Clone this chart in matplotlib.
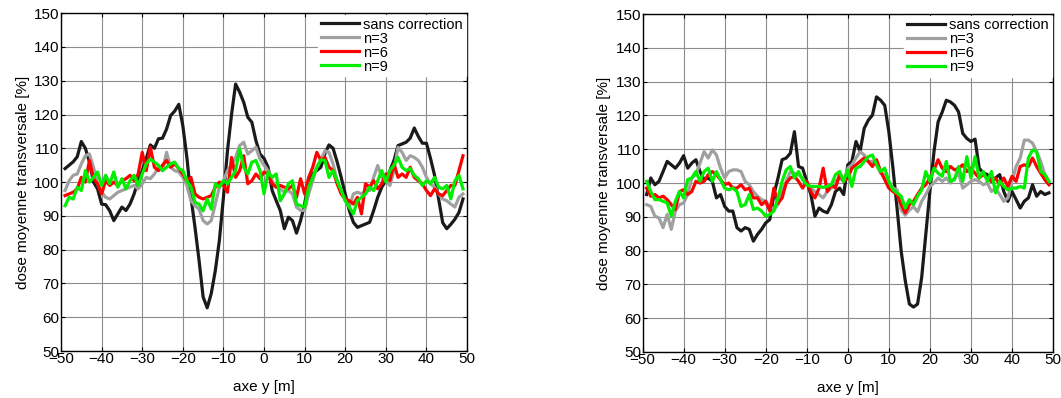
# Profils de dose moyenne transversale - deux configurations
import numpy as np
import matplotlib.pyplot as plt

plt.rcParams['font.family'] = ['Liberation Sans', 'DejaVu Sans']
plt.rcParams['font.size'] = 11

# positions le long de l'axe y [m]
y_pos = np.arange(-49, 50, 1)

# graphe de gauche
gauche_sans = [104, 105, 106, 107.5, 112, 110, 106, 100, 98, 93.5,
               93.3, 91.5, 88.6, 90.6, 92.6, 91.6, 93.5, 96.5, 100.4, 103.4,
               107, 111, 110, 112.8, 113, 115.7, 119.7, 121, 123, 116.7,
               107.3, 95.5, 86.6, 76.8, 66, 62.8, 67, 73.8, 82.7, 95.5,
               109.3, 120, 129, 126.6, 123.6, 119.2, 117.7, 112.3, 108.3, 107,
               104.4, 97.5, 94.5, 91.6, 86.2, 89.6, 88.6, 84.9, 88.6, 93.5,
               100.4, 102.4, 103.4, 104.4, 108.5, 111, 110, 106, 101.4, 96.5,
               91.6, 88.1, 86.6, 87.1, 87.6, 88.1, 91.6, 95.5, 98.5, 100.4,
               103.4, 106.4, 110.8, 111.3, 111.8, 113, 116, 113.5, 111.5, 111.5,
               107, 102, 95, 88, 86.2, 87.5, 89, 91, 95]
gauche_n3 = [97.5, 100.4, 102, 102.4, 105.4, 107.8, 108.3, 104.4, 99.5, 97,
             95.5, 95, 96, 97, 97.5, 98, 98.5, 99, 98, 99.5,
             101.4, 101, 102.4, 104.4, 103.4, 108.8, 104.4, 103.4, 103, 101.4,
             99, 94.5, 93, 92, 88.6, 87.6, 88.6, 93.5, 98.5, 100.4,
             103.4, 105, 107.3, 110.8, 111.8, 108.3, 109.3, 110.3, 106.8, 105,
             103.4, 100.4, 98.5, 98, 97, 97.5, 96.5, 92.6, 91.6, 91.6,
             96.5, 100.4, 104.4, 106.4, 109.3, 108.8, 105.4, 100.4, 97.5, 94.5,
             92.6, 96.5, 97, 96.5, 97.5, 97.5, 101.4, 104.9, 101.4, 100.4,
             99, 103.4, 110.3, 108.8, 106.4, 107.8, 107.3, 106.4, 104.4, 101.4,
             99.5, 98.5, 96.5, 95, 94.5, 93.5, 92.6, 95.5, 96.5]
gauche_n6 = [96, 96.5, 97, 98, 101.4, 100, 106.4, 101, 99.5, 96.5,
             100.4, 99, 100, 99, 100.4, 101, 102, 100.4, 102.4, 108.8,
             103.4, 110.3, 104.4, 103.4, 105, 106.4, 104.4, 105.4, 104, 102.4,
             100.4, 101.4, 96.5, 95.5, 95, 95.5, 96, 98.5, 100, 99,
             97, 107.3, 101.4, 103.4, 107.8, 99.5, 100.4, 102.4, 101, 103,
             102.4, 99.5, 98.5, 99, 98.5, 98, 99, 95.5, 101, 96.5,
             101.4, 104.4, 108.8, 106.4, 107.3, 104.4, 103.4, 99.5, 96.5, 95,
             94.5, 93.5, 95.5, 90.6, 99.5, 98.5, 100.4, 98, 99.5, 102.4,
             100.4, 105.4, 101.4, 102.4, 101.4, 104.4, 101.4, 100.4, 99.5, 97.5,
             96, 98, 96.5, 96, 97.5, 99, 99, 103.4, 107.8]
gauche_n9 = [93, 95.5, 95, 98.5, 97.5, 103.4, 100, 101.4, 103, 99,
             102, 99.5, 103, 98.5, 101, 98, 100.4, 102, 99, 102.4,
             105.4, 106.8, 105.9, 105, 103.4, 104.4, 105.4, 105.9, 104, 103.4,
             100.4, 98.5, 94, 93.5, 91.5, 95, 92, 99.5, 98.5, 100.4,
             99.5, 101.4, 103.4, 109.8, 104.4, 102.4, 105.9, 106.4, 103.4, 96.5,
             103, 101.4, 102.4, 94.5, 96.5, 99.5, 100.4, 93.5, 93, 92.6,
             98.5, 101.4, 104.4, 106.6, 106.4, 101.4, 103.4, 100.4, 97.5, 94.5,
             92.6, 90.6, 94.5, 95.5, 96.5, 98.5, 97.5, 100.4, 103.4, 100,
             103.4, 105, 107.3, 104.4, 103.4, 104, 102, 101, 99, 100.4,
             99.5, 101.4, 98.5, 98, 99, 95, 100.4, 102, 98]

# graphe de droite
droite_sans = [96.6, 101.5, 99.5, 100.5, 103.4, 106.4, 105.4, 104.4, 105.9, 108.1,
               104.4, 105.9, 106.9, 103.4, 101, 101.5, 100.5, 95.6, 96.6, 93.1,
               91.7, 91.7, 86.8, 85.8, 86.8, 86.3, 82.8, 84.8, 86.3, 88.2,
               89.2, 96.6, 101.5, 106.9, 107.4, 108.8, 115.2, 104.9, 104.4, 100.5,
               96.6, 90.2, 92.6, 91.7, 91.2, 93.6, 97.5, 98.5, 96.6, 105.4,
               106.4, 112.3, 109.4, 116.2, 118.6, 120.1, 125.5, 124.5, 123, 115.2,
               104.4, 92.6, 79.9, 71.1, 64.2, 63.3, 64.2, 72.1, 84.8, 97.5,
               109.3, 118.1, 121, 124.5, 124, 123, 121, 114.7, 113.2, 112.3,
               113, 104.4, 103, 102.5, 100.5, 101.5, 102.5, 97.5, 94.6, 97.5,
               95.1, 92.6, 94.6, 95.6, 99.5, 96.1, 97.5, 96.6, 97.1]
droite_n3 = [93.6, 93.1, 90.2, 89.7, 86.8, 90.7, 86.3, 91.7, 93.6, 94.1,
             96.6, 101.5, 102.5, 105.9, 109.3, 107.4, 109.8, 108.3, 104.4, 101.5,
             103.4, 103.9, 103.9, 103.4, 100.5, 99.5, 97.5, 96.1, 95.1, 94.6,
             93.1, 92.2, 93.6, 97.5, 100.5, 103.4, 102.9, 102.5, 101.5, 99.5,
             98.5, 97.5, 96.6, 95.6, 97.5, 98.5, 100.5, 101.5, 100.5, 104.4,
             105.4, 107.4, 109.3, 108.3, 106.4, 106.4, 105.4, 102.9, 102.5, 100.5,
             98.5, 98, 92, 90.5, 92, 93, 91.5, 94.6, 96.6, 99,
             100, 101.5, 100.5, 101.5, 100, 101.5, 102.9, 98.5, 99.5, 100.5,
             101, 100.5, 99.5, 100, 97.5, 98.5, 96.6, 94.6, 95.6, 100.5,
             104.9, 107.4, 112.7, 112.7, 111.8, 109.3, 106.4, 102.5, 100.5]
droite_n6 = [98.5, 96.1, 96.6, 95.6, 96.1, 95.1, 93.6, 92.2, 97.5, 98,
             96.6, 97.5, 100.5, 100, 100.5, 102.5, 103.4, 102.5, 101, 99.5,
             100, 98.5, 98.5, 99.5, 98, 98.5, 95.6, 95.6, 93.6, 94.6,
             91.7, 98.5, 94, 95.6, 100, 101.5, 102, 100.5, 98.5, 100.5,
             97.5, 95.6, 98.5, 104.4, 97.5, 99.5, 98.5, 102.5, 100.5, 101.5,
             104.4, 105.4, 106.4, 107.4, 106.4, 104.9, 106.9, 103.4, 101, 98.5,
             97.5, 96.6, 93.6, 91.2, 93.6, 94.6, 96.6, 98.5, 99.5, 101.5,
             103.9, 106.9, 104.4, 103.4, 104.9, 103.9, 104.4, 105.4, 103.4, 104.4,
             102.9, 101.5, 102.5, 101.5, 100.5, 101.5, 99.5, 101.5, 99, 102,
             100.5, 104.9, 105.4, 104.9, 107.4, 104.9, 102.9, 101, 99.5]
droite_n9 = [100.5, 97.5, 95.1, 95.1, 94.6, 94.1, 90.2, 94.6, 97.5, 95.6,
             101, 101.5, 103.4, 100.5, 103.4, 104.4, 100.5, 103.4, 101, 98.5,
             98, 98.5, 97.5, 93.1, 93.6, 96.6, 92.2, 92.6, 91.7, 90.2,
             90.7, 91.7, 95.6, 100.5, 103.9, 104.9, 101.5, 103.4, 101, 99.5,
             99, 99, 99, 98.7, 99, 99.5, 102.5, 103.4, 100.5, 103.9,
             99, 104.4, 104.9, 106.4, 107.8, 108.3, 105.4, 103.4, 104.4, 100.5,
             98, 97.1, 96.1, 92.6, 95.1, 93.6, 96.1, 98, 103.4, 100.5,
             104.4, 102.9, 102, 106.4, 100.5, 101, 104.9, 100.5, 107.8, 101.5,
             107.8, 101.5, 103.4, 100.5, 103.4, 97.1, 100.5, 99, 98, 98.5,
             98.5, 99, 98.5, 107.4, 109.8, 109.3, 103.4, 102.5, 100.5]

labels = ['sans correction', 'n=3', 'n=6', 'n=9']
couleurs = ['#1a1a1a', '#a0a0a0', '#ff0000', '#00ee00']

fig = plt.figure(figsize=(10.61, 3.98), dpi=100)
ax1 = fig.add_axes([0.0575, 0.118, 0.3827, 0.849])
ax2 = fig.add_axes([0.6056, 0.1156, 0.3869, 0.849])

for ax, series in [(ax1, [gauche_sans, gauche_n3, gauche_n6, gauche_n9]),
                   (ax2, [droite_sans, droite_n3, droite_n6, droite_n9])]:
    for s, lab, c in zip(series, labels, couleurs):
        ax.plot(y_pos, s, color=c, lw=2.3, label=lab)
    ax.set_xlim(-50, 50)
    ax.set_ylim(50, 150)
    ax.set_xticks(np.arange(-50, 51, 10))
    ax.set_yticks(np.arange(50, 151, 10))
    ax.grid(True, color='0.55', lw=0.8)
    ax.tick_params(direction='in', top=True, right=True, length=3, pad=1)
    ax.set_xlabel('axe y [m]', labelpad=10)
    ax.set_ylabel('dose moyenne transversale [%]', labelpad=3)
    ax.legend(loc='upper right', frameon=True, fancybox=False,
              edgecolor='white', framealpha=1, borderaxespad=0.1,
              handlelength=2.6, handletextpad=0.3, labelspacing=0.0,
              borderpad=0.2, fontsize=10.5)
    for sp in ax.spines.values():
        sp.set_linewidth(1.0)

plt.savefig('out.png', dpi=100)
